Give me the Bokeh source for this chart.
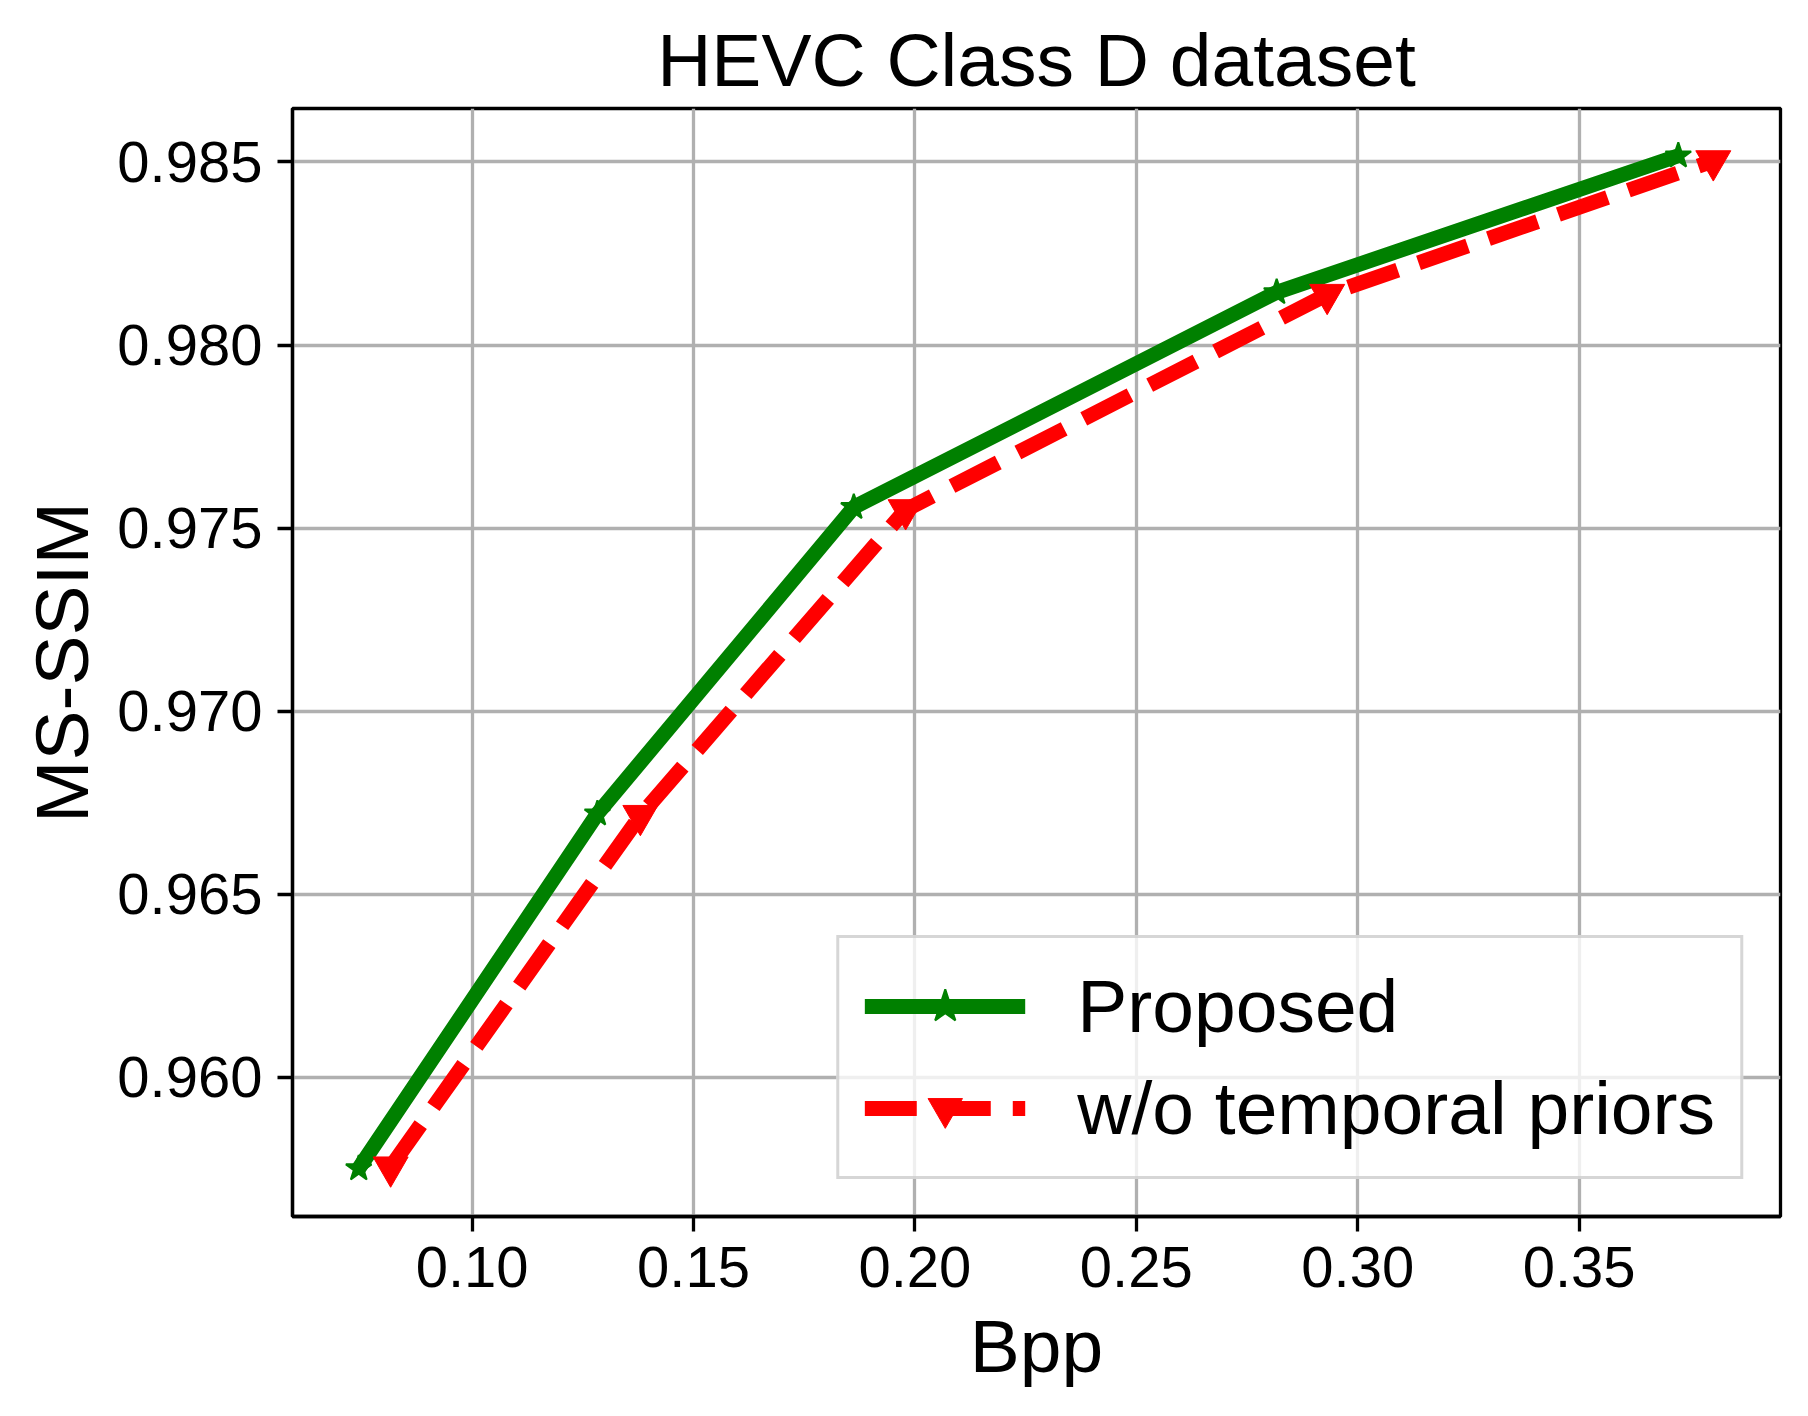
from bokeh.plotting import figure
from bokeh.models import FixedTicker, PrintfTickFormatter, Range1d, Legend, LegendItem
from bokeh.embed import file_html
from bokeh.resources import INLINE

# ---- data ----
proposed_bpp = [0.0744, 0.1283, 0.1862, 0.2817, 0.3724]
proposed_ssim = [0.95751, 0.96720, 0.97557, 0.98144, 0.98517]
wo_bpp = [0.0816, 0.1380, 0.1979, 0.2931, 0.3803]
wo_ssim = [0.95755, 0.96715, 0.97550, 0.98138, 0.98503]

x_ticks = [0.10, 0.15, 0.20, 0.25, 0.30, 0.35]
y_ticks = [0.960, 0.965, 0.970, 0.975, 0.980, 0.985]

FONT = "Liberation Sans"

p = figure(
    frame_width=1488, frame_height=1108,
    min_border_left=292, min_border_right=12, min_border_top=108, min_border_bottom=184,
    x_range=Range1d(0.05944, 0.39548), y_range=Range1d(0.95620, 0.98646),
    output_backend="svg", toolbar_location=None,
    title="HEVC Class D dataset",
)

p.title.text_font = FONT
p.title.text_font_size = "75px"
p.title.text_font_style = "normal"
p.title.align = "center"
p.title.standoff = 14
p.title.text_color = "black"

# axes
p.xaxis.ticker = FixedTicker(ticks=x_ticks)
p.yaxis.ticker = FixedTicker(ticks=y_ticks)
p.xaxis.formatter = PrintfTickFormatter(format="%.2f")
p.yaxis.formatter = PrintfTickFormatter(format="%.3f")
p.xaxis.axis_label = "Bpp"
p.yaxis.axis_label = "MS-SSIM"
for ax in (p.xaxis, p.yaxis):
    ax.axis_label_text_font = FONT
    ax.axis_label_text_font_size = "75px"
    ax.axis_label_text_font_style = "normal"
    ax.axis_label_text_color = "black"
    ax.major_label_text_font = FONT
    ax.major_label_text_font_size = "58px"
    ax.major_label_text_color = "black"
    ax.axis_line_color = "black"
    ax.axis_line_width = 3.3
    ax.major_tick_line_color = "black"
    ax.major_tick_line_width = 3.3
    ax.major_tick_out = 15
    ax.major_tick_in = 0
    ax.minor_tick_line_color = None
    ax.major_label_standoff = 15
p.xaxis.axis_label_standoff = 14
p.yaxis.axis_label_standoff = 10

p.outline_line_color = "black"
p.outline_line_width = 3.3
p.outline_line_alpha = 1.0

p.xgrid.grid_line_color = "#b0b0b0"
p.ygrid.grid_line_color = "#b0b0b0"
p.xgrid.grid_line_width = 3.3
p.ygrid.grid_line_width = 3.3

# series
l1 = p.line(proposed_bpp, proposed_ssim, line_color="green", line_width=15)
m1 = p.scatter(proposed_bpp, proposed_ssim, marker="star", size=27,
               fill_color="green", line_color="green", line_width=2)
l2 = p.line(wo_bpp, wo_ssim, line_color="red", line_width=15, line_dash="52 22")
m2 = p.scatter(wo_bpp, wo_ssim, marker="inverted_triangle", size=35,
               fill_color="red", line_color="red", line_width=1)

legend = Legend(
    items=[LegendItem(label="Proposed", renderers=[l1, m1]),
           LegendItem(label="w/o temporal priors", renderers=[l2, m2])],
    location="bottom_right",
)
legend.label_text_font = FONT
legend.label_text_font_size = "75px"
legend.label_text_color = "black"
legend.glyph_width = 161
legend.glyph_height = 86
legend.label_standoff = 52
legend.spacing = 16
legend.padding = 25
legend.margin = 37
legend.border_line_color = "#cccccc"
legend.border_line_width = 3.3
legend.border_line_alpha = 0.8
legend.background_fill_color = "white"
legend.background_fill_alpha = 0.8
p.add_layout(legend, "center")

open("out.html", "w").write(file_html(p, INLINE))
